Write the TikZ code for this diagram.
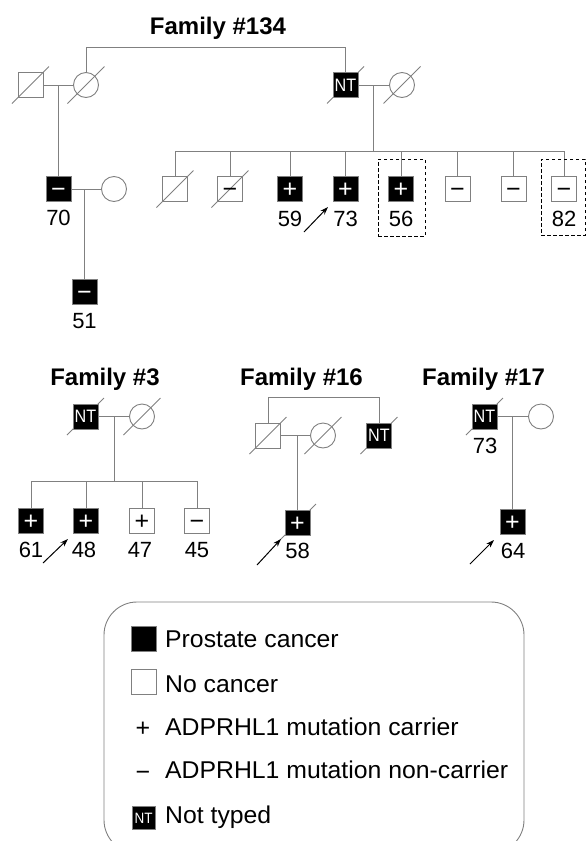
\documentclass[tikz,border=0pt]{standalone}
\usepackage{fontspec}
\setmainfont{Liberation Sans}
\newfontfamily\ntfont[FakeStretch=0.9]{Liberation Sans}
\newfontfamily\lgfont[FakeStretch=1.02]{Liberation Sans}
\usetikzlibrary{arrows.meta}
\definecolor{lg}{RGB}{128,128,128}
\pgfdeclarelayer{bg}
\pgfsetlayers{bg,main}
\newcommand\deceased[1]{\begin{pgfonlayer}{bg}\draw[slash] ([shift={(-18.5,18.5)}]#1.center) -- ([shift={(18.5,-18.5)}]#1.center);\end{pgfonlayer}}
\begin{document}
\begin{tikzpicture}[x=1pt,y=-1pt,
 ln/.style={draw=lg, line width=0.9pt},
 basesym/.style={draw=lg, line width=0.9pt, minimum size=25pt, inner sep=0pt, outer sep=0pt},
 sq/.style={basesym, rectangle},
 aff/.style={sq, fill=black, text=white},
 circ/.style={basesym, circle},
 sym/.style={font=\fontsize{25}{25}\selectfont, text height=17pt, text depth=0pt},
 nt/.style={font=\ntfont\fontsize{18}{18}\selectfont},
 num/.style={font=\fontsize{22}{22}\selectfont, anchor=base, inner sep=0pt},
 ttl/.style={font=\bfseries\fontsize{24}{24}\selectfont, anchor=base, inner sep=0pt},
 lgt/.style={font=\lgfont\fontsize{24.3}{24.3}\selectfont, anchor=base west, inner sep=0pt},
 slash/.style={draw=lg, line width=0.8pt},
 prob/.style={draw=black, line width=1pt, -{Stealth[length=8pt,width=5.5pt]}},
 dbox/.style={draw=black, line width=1pt, dash pattern=on 3.5pt off 2.5pt, inner sep=0pt}]
\useasboundingbox (0,0) rectangle (586,841);
\clip (0,0) rectangle (586,841);

% ---------------- Family #134
\node[ttl] (t134) at (218,34.5) {Family \#134};
\node[sq] (gf1) at (30.5,85) {};
\node[circ] (gm1) at (86,85) {};
\node[aff,nt] (nt1) at (345.5,85) {NT};
\node[circ] (w1) at (402,85) {};
\coordinate (top1) at (345.5,47);
\draw[ln] (gm1.north) |- (top1) -- (nt1.north);
\draw[ln] (gf1.east) -- (gm1.west);
\draw[ln] (nt1.east) -- (w1.west);
\deceased{gf1}
\deceased{gm1}
\deceased{nt1}
\deceased{w1}

\node[aff,sym] (p70) at (58.5,189) {−};
\node[circ] (w70) at (114,189) {};
\draw[ln] (p70.north) -- (p70.north |- gf1.east);
\draw[ln] (p70.east) -- (w70.west);
\node[num] (l70) at (58.5,225) {70};
\node[aff,sym] (p51) at (84.5,291.5) {−};
\draw[ln] (p51.north) -- (p51.north |- p70.east);
\node[num] (l51) at (84.5,328) {51};

\coordinate (s134) at (373,151);
\node[sq] (c1) at (175,189) {};
\node[sq,sym] (c2) at (230,189) {−};
\node[aff,sym] (c3) at (290,189) {+};
\node[aff,sym] (c4) at (345.5,189) {+};
\node[aff,sym] (c5) at (401,189) {+};
\node[sq,sym] (c6) at (457.5,189) {−};
\node[sq,sym] (c7) at (513.5,189) {−};
\node[sq,sym] (c8) at (564,189) {−};
\draw[ln] (s134 |- nt1.east) -- (s134);
\draw[ln] (c1.north |- s134) -- (c8.north |- s134);
\foreach \c in {c1,c2,c3,c4,c5,c6,c7,c8} {\draw[ln] (\c.north) -- (\c.north |- s134);}
\deceased{c1}
\deceased{c2}
\node[num] (l59) at (290,226) {59};
\node[num] (l73) at (345.5,226) {73};
\node[num] (l56) at (401,226) {56};
\node[num] (l82) at (564,226) {82};
\coordinate (a73s) at (304,232);
\coordinate (a73e) at (328,207);
\draw[prob] (a73s) -- (a73e);
\node[dbox, minimum width=47pt, minimum height=77pt] (b56) at (401.5,197.5) {};
\node[dbox, minimum width=44pt, minimum height=76pt] (b82) at (563,197) {};

% ---------------- Family #3
\node[ttl] (t3) at (105,385) {Family \#3};
\node[aff,nt] (nt3) at (85.5,416.5) {NT};
\node[circ] (w3) at (142,416.5) {};
\draw[ln] (nt3.east) -- (w3.west);
\deceased{nt3}
\deceased{w3}
\coordinate (s3) at (114,481);
\draw[ln] (s3 |- nt3.east) -- (s3);
\node[aff,sym] (k1) at (31,520.5) {+};
\node[aff,sym] (k2) at (86,520.5) {+};
\node[sq,sym] (k3) at (142,520.5) {+};
\node[sq,sym] (k4) at (197,520.5) {−};
\draw[ln] (k1.north |- s3) -- (k4.north |- s3);
\foreach \c in {k1,k2,k3,k4} {\draw[ln] (\c.north) -- (\c.north |- s3);}
\node[num] (l61) at (31,557) {61};
\node[num] (l48) at (84,557) {48};
\node[num] (l47) at (140,557) {47};
\node[num] (l45) at (197,557) {45};
\coordinate (a48s) at (43,563);
\coordinate (a48e) at (68,539);
\draw[prob] (a48s) -- (a48e);

% ---------------- Family #16
\node[ttl] (t16) at (301.5,385) {Family \#16};
\node[sq] (gf16) at (268,435.5) {};
\node[circ] (gm16) at (323,435.5) {};
\node[aff,nt] (nt16) at (379,435.5) {NT};
\coordinate (top16) at (379,397);
\draw[ln] (gf16.north) |- (top16) -- (nt16.north);
\draw[ln] (gf16.east) -- (gm16.west);
\deceased{gf16}
\deceased{gm16}
\deceased{nt16}
\node[aff,sym] (ch16) at (297.5,522.5) {+};
\draw[ln] (ch16.north) -- (ch16.north |- gf16.east);
\deceased{ch16}
\node[num] (l58) at (297.5,558) {58};
\coordinate (a58s) at (257,565);
\coordinate (a58e) at (281,539);
\draw[prob] (a58s) -- (a58e);

% ---------------- Family #17
\node[ttl] (t17) at (483.5,385) {Family \#17};
\node[aff,nt] (nt17) at (484.5,416.5) {NT};
\node[circ] (w17) at (541,416.5) {};
\draw[ln] (nt17.east) -- (w17.west);
\deceased{nt17}
\node[num] (l73b) at (485,453) {73};
\node[aff,sym] (ch17) at (512.5,522) {+};
\draw[ln] (ch17.north) -- (ch17.north |- nt17.east);
\node[num] (l64) at (513,558) {64};
\coordinate (a64s) at (470,564);
\coordinate (a64e) at (494,540);
\draw[prob] (a64s) -- (a64e);

% ---------------- Legend
\node[draw=lg, line width=0.9pt, rounded corners=33pt, minimum width=420pt, minimum height=251pt, inner sep=0pt] (legend) at (314,727.5) {};
\node[aff] (lg1) at (144,639) {};
\node[lgt] (lt1) at (165,647) {Prostate cancer};
\node[sq] (lg2) at (144,682) {};
\node[lgt] (lt2) at (165,692) {No cancer};
\node[sym, inner sep=0pt] (lg3) at (143,728) {+};
\node[lgt] (lt3) at (165,735) {ADPRHL1 mutation carrier};
\node[sym, inner sep=0pt] (lg4) at (143,772) {−};
\node[lgt] (lt4) at (165,778) {ADPRHL1 mutation non-carrier};
\node[aff, minimum size=23pt, font=\ntfont\fontsize{15}{15}\selectfont] (lg5) at (143.5,818) {NT};
\node[lgt] (lt5) at (165,823) {Not typed};
\end{tikzpicture}
\end{document}
